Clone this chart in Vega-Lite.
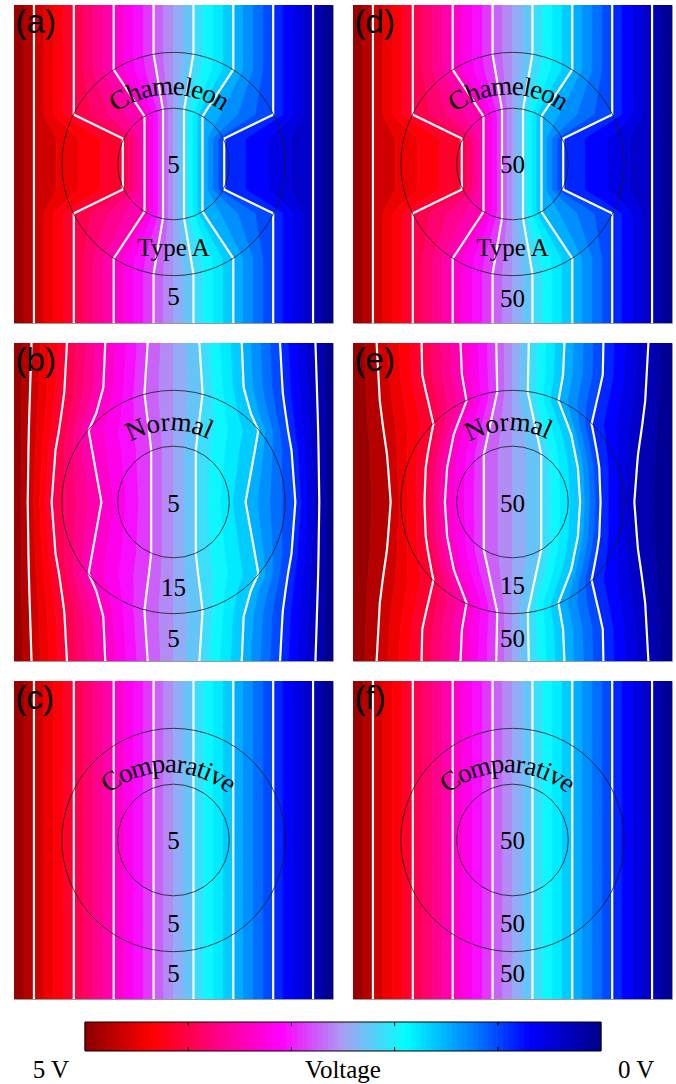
{
"$schema":"https://vega.github.io/schema/vega-lite/v6.json",
"background":"#ffffff",
"padding":{"left":13,"top":4,"right":0,"bottom":0},
"config":{"view":{"stroke":"#9a9a9a","strokeWidth":1}},
"datasets":{
"strips":[{"n":1,"v":4.922},{"n":2,"v":4.766},{"n":3,"v":4.609},{"n":4,"v":4.453},{"n":5,"v":4.297},{"n":6,"v":4.141},{"n":7,"v":3.984},{"n":8,"v":3.828},{"n":9,"v":3.672},{"n":10,"v":3.516},{"n":11,"v":3.359},{"n":12,"v":3.203},{"n":13,"v":3.047},{"n":14,"v":2.891},{"n":15,"v":2.734},{"n":16,"v":2.578},{"n":17,"v":2.422},{"n":18,"v":2.266},{"n":19,"v":2.109},{"n":20,"v":1.953},{"n":21,"v":1.797},{"n":22,"v":1.641},{"n":23,"v":1.484},{"n":24,"v":1.328},{"n":25,"v":1.172},{"n":26,"v":1.016},{"n":27,"v":0.859},{"n":28,"v":0.703},{"n":29,"v":0.547},{"n":30,"v":0.391},{"n":31,"v":0.234},{"n":32,"v":0.078}],
"field":[
{"g":"A","y":10,"b":[0,0.313,0.625,0.938,1.25,1.563,1.875,2.188,2.5,2.813,3.125,3.438,3.75,4.063,4.375,4.688,5,5.313,5.625,5.938,6.25,6.563,6.875,7.188,7.5,7.813,8.125,8.438,8.75,9.063,9.375,9.688,10]},
{"g":"A","y":8.45,"b":[0,0.313,0.625,0.938,1.25,1.563,1.875,2.188,2.5,2.813,3.125,3.438,3.75,4.063,4.375,4.688,5,5.313,5.625,5.938,6.25,6.563,6.875,7.188,7.5,7.813,8.125,8.438,8.75,9.063,9.375,9.688,10]},
{"g":"A","y":7.97,"b":[0,0.313,0.625,0.938,1.25,1.563,1.875,2.188,2.5,2.813,3.125,3.458,3.791,4.123,4.456,4.728,5,5.272,5.544,5.877,6.209,6.542,6.875,7.188,7.5,7.813,8.125,8.438,8.75,9.063,9.375,9.688,10]},
{"g":"A","y":6.7,"b":[0,0.313,0.625,0.938,1.25,1.563,1.875,2.396,2.917,3.438,3.959,4.137,4.315,4.492,4.67,4.835,5,5.165,5.33,5.508,5.685,5.863,6.041,6.562,7.083,7.604,8.125,8.438,8.75,9.063,9.375,9.688,10]},
{"g":"A","y":6.55,"b":[0,0.313,0.625,0.938,1.25,1.563,1.875,2.421,2.966,3.512,4.057,4.21,4.364,4.517,4.67,4.835,5,5.165,5.33,5.483,5.636,5.79,5.943,6.488,7.034,7.579,8.125,8.438,8.75,9.063,9.375,9.688,10]},
{"g":"A","y":6.5,"b":[0,0.313,0.625,0.963,1.301,1.639,1.977,2.505,3.034,3.562,4.09,4.235,4.38,4.525,4.67,4.835,5,5.165,5.33,5.475,5.62,5.765,5.91,6.438,6.966,7.495,8.023,8.361,8.699,9.037,9.375,9.688,10]},
{"g":"A","y":5.8,"b":[0,0.313,0.625,1.321,2.018,2.714,3.41,3.58,3.75,3.92,4.09,4.235,4.38,4.525,4.67,4.835,5,5.165,5.33,5.475,5.62,5.765,5.91,6.08,6.25,6.42,6.59,7.286,7.982,8.679,9.375,9.688,10]},
{"g":"A","y":4.2,"b":[0,0.313,0.625,1.321,2.018,2.714,3.41,3.58,3.75,3.92,4.09,4.235,4.38,4.525,4.67,4.835,5,5.165,5.33,5.475,5.62,5.765,5.91,6.08,6.25,6.42,6.59,7.286,7.982,8.679,9.375,9.688,10]},
{"g":"A","y":3.5,"b":[0,0.313,0.625,0.963,1.301,1.639,1.977,2.505,3.034,3.562,4.09,4.235,4.38,4.525,4.67,4.835,5,5.165,5.33,5.475,5.62,5.765,5.91,6.438,6.966,7.495,8.023,8.361,8.699,9.037,9.375,9.688,10]},
{"g":"A","y":3.45,"b":[0,0.313,0.625,0.938,1.25,1.563,1.875,2.421,2.966,3.512,4.057,4.21,4.364,4.517,4.67,4.835,5,5.165,5.33,5.483,5.636,5.79,5.943,6.488,7.034,7.579,8.125,8.438,8.75,9.063,9.375,9.688,10]},
{"g":"A","y":3.3,"b":[0,0.313,0.625,0.938,1.25,1.563,1.875,2.396,2.917,3.438,3.959,4.137,4.315,4.492,4.67,4.835,5,5.165,5.33,5.508,5.685,5.863,6.041,6.562,7.083,7.604,8.125,8.438,8.75,9.063,9.375,9.688,10]},
{"g":"A","y":2.03,"b":[0,0.313,0.625,0.938,1.25,1.563,1.875,2.188,2.5,2.813,3.125,3.458,3.791,4.123,4.456,4.728,5,5.272,5.544,5.877,6.209,6.542,6.875,7.188,7.5,7.813,8.125,8.438,8.75,9.063,9.375,9.688,10]},
{"g":"A","y":1.55,"b":[0,0.313,0.625,0.938,1.25,1.563,1.875,2.188,2.5,2.813,3.125,3.438,3.75,4.063,4.375,4.688,5,5.313,5.625,5.938,6.25,6.563,6.875,7.188,7.5,7.813,8.125,8.438,8.75,9.063,9.375,9.688,10]},
{"g":"A","y":0,"b":[0,0.313,0.625,0.938,1.25,1.563,1.875,2.188,2.5,2.813,3.125,3.438,3.75,4.063,4.375,4.688,5,5.313,5.625,5.938,6.25,6.563,6.875,7.188,7.5,7.813,8.125,8.438,8.75,9.063,9.375,9.688,10]},
{"g":"B","y":10,"b":[0,0.275,0.55,0.828,1.105,1.383,1.66,1.96,2.26,2.56,2.86,3.193,3.525,3.858,4.19,4.595,5,5.405,5.81,6.142,6.475,6.807,7.14,7.44,7.74,8.04,8.34,8.617,8.895,9.172,9.45,9.725,10]},
{"g":"B","y":8.6,"b":[0,0.253,0.505,0.775,1.045,1.315,1.585,1.889,2.193,2.496,2.8,3.125,3.45,3.775,4.1,4.55,5,5.45,5.9,6.225,6.55,6.875,7.2,7.504,7.807,8.111,8.415,8.685,8.955,9.225,9.495,9.747,10]},
{"g":"B","y":8.4,"b":[0,0.25,0.5,0.768,1.035,1.303,1.57,1.864,2.158,2.451,2.745,3.081,3.418,3.754,4.09,4.545,5,5.455,5.91,6.246,6.582,6.919,7.255,7.549,7.842,8.136,8.43,8.697,8.965,9.232,9.5,9.75,10]},
{"g":"B","y":7.8,"b":[0,0.24,0.48,0.733,0.985,1.238,1.49,1.763,2.035,2.308,2.58,2.975,3.37,3.765,4.16,4.58,5,5.42,5.84,6.235,6.63,7.025,7.42,7.692,7.965,8.237,8.51,8.762,9.015,9.267,9.52,9.76,10]},
{"g":"B","y":7.25,"b":[0,0.233,0.466,0.702,0.938,1.174,1.41,1.643,1.875,2.108,2.34,2.813,3.285,3.758,4.23,4.615,5,5.385,5.77,6.242,6.715,7.187,7.66,7.892,8.125,8.357,8.59,8.826,9.062,9.298,9.534,9.767,10]},
{"g":"B","y":6.62,"b":[0,0.227,0.453,0.665,0.877,1.088,1.3,1.588,1.875,2.163,2.45,2.913,3.375,3.838,4.3,4.65,5,5.35,5.7,6.162,6.625,7.087,7.55,7.837,8.125,8.412,8.7,8.912,9.123,9.335,9.547,9.773,10]},
{"g":"B","y":5,"b":[0,0.215,0.43,0.618,0.805,0.993,1.18,1.57,1.96,2.35,2.74,3.13,3.52,3.91,4.3,4.65,5,5.35,5.7,6.09,6.48,6.87,7.26,7.65,8.04,8.43,8.82,9.007,9.195,9.382,9.57,9.785,10]},
{"g":"B","y":3.38,"b":[0,0.227,0.453,0.665,0.877,1.088,1.3,1.588,1.875,2.163,2.45,2.913,3.375,3.838,4.3,4.65,5,5.35,5.7,6.162,6.625,7.087,7.55,7.837,8.125,8.412,8.7,8.912,9.123,9.335,9.547,9.773,10]},
{"g":"B","y":2.75,"b":[0,0.233,0.466,0.702,0.938,1.174,1.41,1.643,1.875,2.108,2.34,2.813,3.285,3.758,4.23,4.615,5,5.385,5.77,6.242,6.715,7.187,7.66,7.892,8.125,8.357,8.59,8.826,9.062,9.298,9.534,9.767,10]},
{"g":"B","y":2.2,"b":[0,0.24,0.48,0.733,0.985,1.238,1.49,1.763,2.035,2.308,2.58,2.975,3.37,3.765,4.16,4.58,5,5.42,5.84,6.235,6.63,7.025,7.42,7.692,7.965,8.237,8.51,8.762,9.015,9.267,9.52,9.76,10]},
{"g":"B","y":1.6,"b":[0,0.25,0.5,0.768,1.035,1.303,1.57,1.864,2.158,2.451,2.745,3.081,3.418,3.754,4.09,4.545,5,5.455,5.91,6.246,6.582,6.919,7.255,7.549,7.842,8.136,8.43,8.697,8.965,9.232,9.5,9.75,10]},
{"g":"B","y":1.4,"b":[0,0.253,0.505,0.775,1.045,1.315,1.585,1.889,2.193,2.496,2.8,3.125,3.45,3.775,4.1,4.55,5,5.45,5.9,6.225,6.55,6.875,7.2,7.504,7.807,8.111,8.415,8.685,8.955,9.225,9.495,9.747,10]},
{"g":"B","y":0,"b":[0,0.275,0.55,0.828,1.105,1.383,1.66,1.96,2.26,2.56,2.86,3.193,3.525,3.858,4.19,4.595,5,5.405,5.81,6.142,6.475,6.807,7.14,7.44,7.74,8.04,8.34,8.617,8.895,9.172,9.45,9.725,10]},
{"g":"E","y":10,"b":[0,0.37,0.74,1.093,1.445,1.798,2.15,2.455,2.76,3.065,3.37,3.65,3.93,4.21,4.49,4.745,5,5.255,5.51,5.79,6.07,6.35,6.63,6.935,7.24,7.545,7.85,8.202,8.555,8.907,9.26,9.63,10]},
{"g":"E","y":9,"b":[0,0.398,0.795,1.139,1.483,1.826,2.17,2.481,2.793,3.104,3.415,3.689,3.963,4.236,4.51,4.755,5,5.245,5.49,5.764,6.037,6.311,6.585,6.896,7.207,7.519,7.83,8.174,8.517,8.861,9.205,9.602,10]},
{"g":"E","y":8.45,"b":[0,0.413,0.825,1.191,1.558,1.924,2.29,2.595,2.9,3.205,3.51,3.763,4.015,4.268,4.52,4.76,5,5.24,5.48,5.732,5.985,6.237,6.49,6.795,7.1,7.405,7.71,8.076,8.442,8.809,9.175,9.587,10]},
{"g":"E","y":8.18,"b":[0,0.42,0.84,1.219,1.598,1.976,2.355,2.656,2.958,3.259,3.56,3.785,4.01,4.235,4.46,4.73,5,5.27,5.54,5.765,5.99,6.215,6.44,6.741,7.042,7.344,7.645,8.024,8.402,8.781,9.16,9.58,10]},
{"g":"E","y":7.45,"b":[0,0.465,0.93,1.328,1.725,2.123,2.52,2.71,2.9,3.09,3.28,3.536,3.793,4.049,4.305,4.653,5,5.347,5.695,5.951,6.207,6.464,6.72,6.91,7.1,7.29,7.48,7.877,8.275,8.672,9.07,9.535,10]},
{"g":"E","y":7.13,"b":[0,0.488,0.975,1.345,1.716,2.086,2.456,2.632,2.808,2.984,3.16,3.429,3.698,3.967,4.236,4.618,5,5.382,5.764,6.033,6.302,6.571,6.84,7.016,7.192,7.368,7.544,7.914,8.284,8.655,9.025,9.512,10]},
{"g":"E","y":6.5,"b":[0,0.533,1.065,1.384,1.703,2.021,2.34,2.514,2.687,2.861,3.034,3.301,3.567,3.834,4.1,4.55,5,5.45,5.9,6.166,6.433,6.699,6.966,7.139,7.313,7.486,7.66,7.979,8.297,8.616,8.935,9.467,10]},
{"g":"E","y":6.08,"b":[0,0.55,1.1,1.395,1.69,1.985,2.28,2.448,2.615,2.783,2.95,3.238,3.525,3.813,4.1,4.55,5,5.45,5.9,6.187,6.475,6.762,7.05,7.217,7.385,7.552,7.72,8.015,8.31,8.605,8.9,9.45,10]},
{"g":"E","y":5,"b":[0,0.59,1.18,1.445,1.71,1.975,2.24,2.4,2.56,2.72,2.88,3.185,3.49,3.795,4.1,4.55,5,5.45,5.9,6.205,6.51,6.815,7.12,7.28,7.44,7.6,7.76,8.025,8.29,8.555,8.82,9.41,10]},
{"g":"E","y":3.92,"b":[0,0.55,1.1,1.395,1.69,1.985,2.28,2.448,2.615,2.783,2.95,3.238,3.525,3.813,4.1,4.55,5,5.45,5.9,6.187,6.475,6.762,7.05,7.217,7.385,7.552,7.72,8.015,8.31,8.605,8.9,9.45,10]},
{"g":"E","y":3.5,"b":[0,0.533,1.065,1.384,1.703,2.021,2.34,2.514,2.687,2.861,3.034,3.301,3.567,3.834,4.1,4.55,5,5.45,5.9,6.166,6.433,6.699,6.966,7.139,7.313,7.486,7.66,7.979,8.297,8.616,8.935,9.467,10]},
{"g":"E","y":2.87,"b":[0,0.488,0.975,1.345,1.716,2.086,2.456,2.632,2.808,2.984,3.16,3.429,3.698,3.967,4.236,4.618,5,5.382,5.764,6.033,6.302,6.571,6.84,7.016,7.192,7.368,7.544,7.914,8.284,8.655,9.025,9.512,10]},
{"g":"E","y":2.55,"b":[0,0.465,0.93,1.328,1.725,2.123,2.52,2.71,2.9,3.09,3.28,3.536,3.793,4.049,4.305,4.653,5,5.347,5.695,5.951,6.207,6.464,6.72,6.91,7.1,7.29,7.48,7.877,8.275,8.672,9.07,9.535,10]},
{"g":"E","y":1.82,"b":[0,0.42,0.84,1.219,1.598,1.976,2.355,2.656,2.958,3.259,3.56,3.785,4.01,4.235,4.46,4.73,5,5.27,5.54,5.765,5.99,6.215,6.44,6.741,7.042,7.344,7.645,8.024,8.402,8.781,9.16,9.58,10]},
{"g":"E","y":1.55,"b":[0,0.413,0.825,1.191,1.558,1.924,2.29,2.595,2.9,3.205,3.51,3.763,4.015,4.268,4.52,4.76,5,5.24,5.48,5.732,5.985,6.237,6.49,6.795,7.1,7.405,7.71,8.076,8.442,8.809,9.175,9.587,10]},
{"g":"E","y":1,"b":[0,0.398,0.795,1.139,1.483,1.826,2.17,2.481,2.793,3.104,3.415,3.689,3.963,4.236,4.51,4.755,5,5.245,5.49,5.764,6.037,6.311,6.585,6.896,7.207,7.519,7.83,8.174,8.517,8.861,9.205,9.602,10]},
{"g":"E","y":0,"b":[0,0.37,0.74,1.093,1.445,1.798,2.15,2.455,2.76,3.065,3.37,3.65,3.93,4.21,4.49,4.745,5,5.255,5.51,5.79,6.07,6.35,6.63,6.935,7.24,7.545,7.85,8.202,8.555,8.907,9.26,9.63,10]},
{"g":"C","y":10,"b":[0,0.313,0.625,0.938,1.25,1.563,1.875,2.188,2.5,2.813,3.125,3.438,3.75,4.063,4.375,4.688,5,5.313,5.625,5.938,6.25,6.563,6.875,7.188,7.5,7.813,8.125,8.438,8.75,9.063,9.375,9.688,10]},
{"g":"C","y":0,"b":[0,0.313,0.625,0.938,1.25,1.563,1.875,2.188,2.5,2.813,3.125,3.438,3.75,4.063,4.375,4.688,5,5.313,5.625,5.938,6.25,6.563,6.875,7.188,7.5,7.813,8.125,8.438,8.75,9.063,9.375,9.688,10]}
],
"rings":[{"cx":5,"cy":5,"r":3.5},{"cx":5,"cy":5,"r":1.75}],
"words":[
{"w":"ch","t":"C","x":3.303,"y":6.985,"a":-31},
{"w":"ch","t":"h","x":3.764,"y":7.214,"a":-21.5},
{"w":"ch","t":"a","x":4.15,"y":7.338,"a":-14},
{"w":"ch","t":"m","x":4.657,"y":7.42,"a":-4.5},
{"w":"ch","t":"e","x":5.17,"y":7.418,"a":5},
{"w":"ch","t":"l","x":5.465,"y":7.378,"a":10.5},
{"w":"ch","t":"e","x":5.754,"y":7.31,"a":16},
{"w":"ch","t":"o","x":6.136,"y":7.172,"a":23.5},
{"w":"ch","t":"n","x":6.497,"y":6.985,"a":31},
{"w":"no","t":"N","x":3.82,"y":7.26,"a":-23.8},
{"w":"no","t":"o","x":4.35,"y":7.43,"a":-12.4},
{"w":"no","t":"r","x":4.74,"y":7.49,"a":-4.3},
{"w":"no","t":"m","x":5.24,"y":7.485,"a":5.9},
{"w":"no","t":"a","x":5.78,"y":7.374,"a":17.2},
{"w":"no","t":"l","x":6.09,"y":7.258,"a":24},
{"w":"co","t":"C","x":3.058,"y":6.827,"a":-34.3},
{"w":"co","t":"o","x":3.486,"y":7.073,"a":-25.4},
{"w":"co","t":"m","x":3.989,"y":7.261,"a":-15.7},
{"w":"co","t":"p","x":4.523,"y":7.363,"a":-5.9},
{"w":"co","t":"a","x":4.922,"y":7.379,"a":1.3},
{"w":"co","t":"r","x":5.251,"y":7.355,"a":7.25},
{"w":"co","t":"a","x":5.576,"y":7.296,"a":13.2},
{"w":"co","t":"t","x":5.87,"y":7.212,"a":18.7},
{"w":"co","t":"i","x":6.087,"y":7.129,"a":22.9},
{"w":"co","t":"v","x":6.387,"y":6.984,"a":28.9},
{"w":"co","t":"e","x":6.719,"y":6.773,"a":36}
],
"labs":[
{"p":"a","t":"5","x":5,"y":4.97},{"p":"a","t":"Type A","x":5,"y":2.37},{"p":"a","t":"5","x":5,"y":0.82},
{"p":"d","t":"50","x":5,"y":4.96},{"p":"d","t":"Type A","x":5,"y":2.36},{"p":"d","t":"50","x":5,"y":0.75},
{"p":"b","t":"5","x":5,"y":4.93},{"p":"b","t":"15","x":5,"y":2.31},{"p":"b","t":"5","x":5,"y":0.68},
{"p":"e","t":"50","x":5,"y":4.93},{"p":"e","t":"15","x":5,"y":2.36},{"p":"e","t":"50","x":5,"y":0.68},
{"p":"c","t":"5","x":5,"y":4.96},{"p":"c","t":"5","x":5,"y":2.35},{"p":"c","t":"5","x":5,"y":0.78},
{"p":"f","t":"50","x":5,"y":4.96},{"p":"f","t":"50","x":5,"y":2.35},{"p":"f","t":"50","x":5,"y":0.78}
],
"ids":[{"p":"a","t":"(a)","x":0.05,"y":9.42},{"p":"b","t":"(b)","x":0.05,"y":9.42},{"p":"c","t":"(c)","x":0.05,"y":9.42},{"p":"d","t":"(d)","x":0.05,"y":9.42},{"p":"e","t":"(e)","x":0.05,"y":9.42},{"p":"f","t":"(f)","x":0.05,"y":9.42}],
"bar":[{"v":[0.025,0.075,0.125,0.175,0.225,0.275,0.325,0.375,0.425,0.475,0.525,0.575,0.625,0.675,0.725,0.775,0.825,0.875,0.925,0.975,1.025,1.075,1.125,1.175,1.225,1.275,1.325,1.375,1.425,1.475,1.525,1.575,1.625,1.675,1.725,1.775,1.825,1.875,1.925,1.975,2.025,2.075,2.125,2.175,2.225,2.275,2.325,2.375,2.425,2.475,2.525,2.575,2.625,2.675,2.725,2.775,2.825,2.875,2.925,2.975,3.025,3.075,3.125,3.175,3.225,3.275,3.325,3.375,3.425,3.475,3.525,3.575,3.625,3.675,3.725,3.775,3.825,3.875,3.925,3.975,4.025,4.075,4.125,4.175,4.225,4.275,4.325,4.375,4.425,4.475,4.525,4.575,4.625,4.675,4.725,4.775,4.825,4.875,4.925,4.975]}],
"ticks":[{"v":1,"y0":0,"y1":0.14},{"v":1,"y0":0.86,"y1":1},{"v":2,"y0":0,"y1":0.14},{"v":2,"y0":0.86,"y1":1},{"v":3,"y0":0,"y1":0.14},{"v":3,"y0":0.86,"y1":1},{"v":4,"y0":0,"y1":0.14},{"v":4,"y0":0.86,"y1":1}]
},
"vconcat":[
{"concat":[
{"width":319,"height":318,"layer":[
{"data":{"name":"field"},"transform":[{"filter":{"field":"g","equal":"A"}},{"flatten":["b"]},{"window":[{"op":"row_number","as":"n"},{"op":"lead","field":"b","as":"b2"}],"sort":[{"field":"b"}],"groupby":["y"]},{"lookup":"n","from":{"data":{"name":"strips"},"key":"n","fields":["v"]}},{"filter":"datum.b2 != null"}],
"mark":{"type":"area","orient":"horizontal","clip":true,"strokeWidth":0.8},
"encoding":{"y":{"field":"y","type":"quantitative","scale":{"domain":[0,10],"nice":false,"zero":false},"axis":null},"x":{"field":"b","type":"quantitative","scale":{"domain":[0,10],"nice":false,"zero":false},"axis":null,"stack":null},"x2":{"field":"b2"},
"color":{"field":"v","type":"quantitative","scale":{"type":"linear","domain":[0,0.7,1.25,1.9,2.5,3.1,3.75,4.35,5],"range":["#000088","#0000ff","#0080ff","#00ffff","#a8a0f4","#ff00ff","#ff0080","#ff0000","#8b0000"],"interpolate":"rgb","zero":false,"nice":false},"legend":null},
"stroke":{"field":"v","type":"quantitative","scale":{"type":"linear","domain":[0,0.7,1.25,1.9,2.5,3.1,3.75,4.35,5],"range":["#000088","#0000ff","#0080ff","#00ffff","#a8a0f4","#ff00ff","#ff0080","#ff0000","#8b0000"],"interpolate":"rgb","zero":false,"nice":false},"legend":null},
"detail":{"field":"n","type":"nominal"}}},
{"data":{"name":"field"},"transform":[{"filter":{"field":"g","equal":"A"}},{"flatten":["b"]},{"window":[{"op":"row_number","as":"n"}],"sort":[{"field":"b"}],"groupby":["y"]},{"filter":{"field":"n","oneOf":[3,7,11,15,19,23,27,31]}}],
"mark":{"type":"line","color":"#ffffff","strokeWidth":2.2,"clip":true,"strokeJoin":"round"},
"encoding":{"x":{"field":"b","type":"quantitative","scale":{"domain":[0,10],"nice":false,"zero":false},"axis":null},"y":{"field":"y","type":"quantitative","scale":{"domain":[0,10],"nice":false,"zero":false},"axis":null},"detail":{"field":"n","type":"nominal"},"order":{"field":"y","type":"quantitative"}}},
{"data":{"name":"rings"},"mark":{"type":"point","shape":"circle","filled":false,"color":"#1a1a1a","strokeWidth":0.8,"opacity":1},"encoding":{"x":{"field":"cx","type":"quantitative","scale":{"domain":[0,10],"nice":false,"zero":false},"axis":null},"y":{"field":"cy","type":"quantitative","scale":{"domain":[0,10],"nice":false,"zero":false},"axis":null},"size":{"field":"r","type":"quantitative","scale":{"type":"pow","exponent":2,"domain":[0,5],"range":[0,101761],"zero":true},"legend":null}}},
{"data":{"name":"words"},"transform":[{"filter":{"field":"w","equal":"ch"}}],"mark":{"type":"text","font":"Liberation Serif","fontSize":27,"align":"center","baseline":"middle","color":"#000000"},"encoding":{"x":{"field":"x","type":"quantitative","scale":{"domain":[0,10],"nice":false,"zero":false},"axis":null},"y":{"field":"y","type":"quantitative","scale":{"domain":[0,10],"nice":false,"zero":false},"axis":null},"text":{"field":"t"},"angle":{"field":"a","type":"quantitative","scale":{"domain":[-90,90],"range":[-90,90]}}}},
{"data":{"name":"labs"},"transform":[{"filter":{"field":"p","equal":"a"}}],"mark":{"type":"text","font":"Liberation Serif","fontSize":25,"align":"center","baseline":"middle","color":"#000000"},"encoding":{"x":{"field":"x","type":"quantitative","scale":{"domain":[0,10],"nice":false,"zero":false},"axis":null},"y":{"field":"y","type":"quantitative","scale":{"domain":[0,10],"nice":false,"zero":false},"axis":null},"text":{"field":"t"}}},
{"data":{"name":"ids"},"transform":[{"filter":{"field":"p","equal":"a"}}],"mark":{"type":"text","font":"Liberation Sans","fontSize":33,"align":"left","baseline":"middle","color":"#000000"},"encoding":{"x":{"field":"x","type":"quantitative","scale":{"domain":[0,10],"nice":false,"zero":false},"axis":null},"y":{"field":"y","type":"quantitative","scale":{"domain":[0,10],"nice":false,"zero":false},"axis":null},"text":{"field":"t"}}}
]},
{"width":319,"height":318,"layer":[
{"data":{"name":"field"},"transform":[{"filter":{"field":"g","equal":"A"}},{"flatten":["b"]},{"window":[{"op":"row_number","as":"n"},{"op":"lead","field":"b","as":"b2"}],"sort":[{"field":"b"}],"groupby":["y"]},{"lookup":"n","from":{"data":{"name":"strips"},"key":"n","fields":["v"]}},{"filter":"datum.b2 != null"}],
"mark":{"type":"area","orient":"horizontal","clip":true,"strokeWidth":0.8},
"encoding":{"y":{"field":"y","type":"quantitative","scale":{"domain":[0,10],"nice":false,"zero":false},"axis":null},"x":{"field":"b","type":"quantitative","scale":{"domain":[0,10],"nice":false,"zero":false},"axis":null,"stack":null},"x2":{"field":"b2"},
"color":{"field":"v","type":"quantitative","scale":{"type":"linear","domain":[0,0.7,1.25,1.9,2.5,3.1,3.75,4.35,5],"range":["#000088","#0000ff","#0080ff","#00ffff","#a8a0f4","#ff00ff","#ff0080","#ff0000","#8b0000"],"interpolate":"rgb","zero":false,"nice":false},"legend":null},
"stroke":{"field":"v","type":"quantitative","scale":{"type":"linear","domain":[0,0.7,1.25,1.9,2.5,3.1,3.75,4.35,5],"range":["#000088","#0000ff","#0080ff","#00ffff","#a8a0f4","#ff00ff","#ff0080","#ff0000","#8b0000"],"interpolate":"rgb","zero":false,"nice":false},"legend":null},
"detail":{"field":"n","type":"nominal"}}},
{"data":{"name":"field"},"transform":[{"filter":{"field":"g","equal":"A"}},{"flatten":["b"]},{"window":[{"op":"row_number","as":"n"}],"sort":[{"field":"b"}],"groupby":["y"]},{"filter":{"field":"n","oneOf":[3,7,11,15,19,23,27,31]}}],
"mark":{"type":"line","color":"#ffffff","strokeWidth":2.2,"clip":true,"strokeJoin":"round"},
"encoding":{"x":{"field":"b","type":"quantitative","scale":{"domain":[0,10],"nice":false,"zero":false},"axis":null},"y":{"field":"y","type":"quantitative","scale":{"domain":[0,10],"nice":false,"zero":false},"axis":null},"detail":{"field":"n","type":"nominal"},"order":{"field":"y","type":"quantitative"}}},
{"data":{"name":"rings"},"mark":{"type":"point","shape":"circle","filled":false,"color":"#1a1a1a","strokeWidth":0.8,"opacity":1},"encoding":{"x":{"field":"cx","type":"quantitative","scale":{"domain":[0,10],"nice":false,"zero":false},"axis":null},"y":{"field":"cy","type":"quantitative","scale":{"domain":[0,10],"nice":false,"zero":false},"axis":null},"size":{"field":"r","type":"quantitative","scale":{"type":"pow","exponent":2,"domain":[0,5],"range":[0,101761],"zero":true},"legend":null}}},
{"data":{"name":"words"},"transform":[{"filter":{"field":"w","equal":"ch"}}],"mark":{"type":"text","font":"Liberation Serif","fontSize":27,"align":"center","baseline":"middle","color":"#000000"},"encoding":{"x":{"field":"x","type":"quantitative","scale":{"domain":[0,10],"nice":false,"zero":false},"axis":null},"y":{"field":"y","type":"quantitative","scale":{"domain":[0,10],"nice":false,"zero":false},"axis":null},"text":{"field":"t"},"angle":{"field":"a","type":"quantitative","scale":{"domain":[-90,90],"range":[-90,90]}}}},
{"data":{"name":"labs"},"transform":[{"filter":{"field":"p","equal":"d"}}],"mark":{"type":"text","font":"Liberation Serif","fontSize":25,"align":"center","baseline":"middle","color":"#000000"},"encoding":{"x":{"field":"x","type":"quantitative","scale":{"domain":[0,10],"nice":false,"zero":false},"axis":null},"y":{"field":"y","type":"quantitative","scale":{"domain":[0,10],"nice":false,"zero":false},"axis":null},"text":{"field":"t"}}},
{"data":{"name":"ids"},"transform":[{"filter":{"field":"p","equal":"d"}}],"mark":{"type":"text","font":"Liberation Sans","fontSize":33,"align":"left","baseline":"middle","color":"#000000"},"encoding":{"x":{"field":"x","type":"quantitative","scale":{"domain":[0,10],"nice":false,"zero":false},"axis":null},"y":{"field":"y","type":"quantitative","scale":{"domain":[0,10],"nice":false,"zero":false},"axis":null},"text":{"field":"t"}}}
]},
{"width":319,"height":318,"layer":[
{"data":{"name":"field"},"transform":[{"filter":{"field":"g","equal":"B"}},{"flatten":["b"]},{"window":[{"op":"row_number","as":"n"},{"op":"lead","field":"b","as":"b2"}],"sort":[{"field":"b"}],"groupby":["y"]},{"lookup":"n","from":{"data":{"name":"strips"},"key":"n","fields":["v"]}},{"filter":"datum.b2 != null"}],
"mark":{"type":"area","orient":"horizontal","clip":true,"strokeWidth":0.8},
"encoding":{"y":{"field":"y","type":"quantitative","scale":{"domain":[0,10],"nice":false,"zero":false},"axis":null},"x":{"field":"b","type":"quantitative","scale":{"domain":[0,10],"nice":false,"zero":false},"axis":null,"stack":null},"x2":{"field":"b2"},
"color":{"field":"v","type":"quantitative","scale":{"type":"linear","domain":[0,0.7,1.25,1.9,2.5,3.1,3.75,4.35,5],"range":["#000088","#0000ff","#0080ff","#00ffff","#a8a0f4","#ff00ff","#ff0080","#ff0000","#8b0000"],"interpolate":"rgb","zero":false,"nice":false},"legend":null},
"stroke":{"field":"v","type":"quantitative","scale":{"type":"linear","domain":[0,0.7,1.25,1.9,2.5,3.1,3.75,4.35,5],"range":["#000088","#0000ff","#0080ff","#00ffff","#a8a0f4","#ff00ff","#ff0080","#ff0000","#8b0000"],"interpolate":"rgb","zero":false,"nice":false},"legend":null},
"detail":{"field":"n","type":"nominal"}}},
{"data":{"name":"field"},"transform":[{"filter":{"field":"g","equal":"B"}},{"flatten":["b"]},{"window":[{"op":"row_number","as":"n"}],"sort":[{"field":"b"}],"groupby":["y"]},{"filter":{"field":"n","oneOf":[3,7,11,15,19,23,27,31]}}],
"mark":{"type":"line","color":"#ffffff","strokeWidth":2.2,"clip":true,"strokeJoin":"round"},
"encoding":{"x":{"field":"b","type":"quantitative","scale":{"domain":[0,10],"nice":false,"zero":false},"axis":null},"y":{"field":"y","type":"quantitative","scale":{"domain":[0,10],"nice":false,"zero":false},"axis":null},"detail":{"field":"n","type":"nominal"},"order":{"field":"y","type":"quantitative"}}},
{"data":{"name":"rings"},"mark":{"type":"point","shape":"circle","filled":false,"color":"#1a1a1a","strokeWidth":0.8,"opacity":1},"encoding":{"x":{"field":"cx","type":"quantitative","scale":{"domain":[0,10],"nice":false,"zero":false},"axis":null},"y":{"field":"cy","type":"quantitative","scale":{"domain":[0,10],"nice":false,"zero":false},"axis":null},"size":{"field":"r","type":"quantitative","scale":{"type":"pow","exponent":2,"domain":[0,5],"range":[0,101761],"zero":true},"legend":null}}},
{"data":{"name":"words"},"transform":[{"filter":{"field":"w","equal":"no"}}],"mark":{"type":"text","font":"Liberation Serif","fontSize":27,"align":"center","baseline":"middle","color":"#000000"},"encoding":{"x":{"field":"x","type":"quantitative","scale":{"domain":[0,10],"nice":false,"zero":false},"axis":null},"y":{"field":"y","type":"quantitative","scale":{"domain":[0,10],"nice":false,"zero":false},"axis":null},"text":{"field":"t"},"angle":{"field":"a","type":"quantitative","scale":{"domain":[-90,90],"range":[-90,90]}}}},
{"data":{"name":"labs"},"transform":[{"filter":{"field":"p","equal":"b"}}],"mark":{"type":"text","font":"Liberation Serif","fontSize":25,"align":"center","baseline":"middle","color":"#000000"},"encoding":{"x":{"field":"x","type":"quantitative","scale":{"domain":[0,10],"nice":false,"zero":false},"axis":null},"y":{"field":"y","type":"quantitative","scale":{"domain":[0,10],"nice":false,"zero":false},"axis":null},"text":{"field":"t"}}},
{"data":{"name":"ids"},"transform":[{"filter":{"field":"p","equal":"b"}}],"mark":{"type":"text","font":"Liberation Sans","fontSize":33,"align":"left","baseline":"middle","color":"#000000"},"encoding":{"x":{"field":"x","type":"quantitative","scale":{"domain":[0,10],"nice":false,"zero":false},"axis":null},"y":{"field":"y","type":"quantitative","scale":{"domain":[0,10],"nice":false,"zero":false},"axis":null},"text":{"field":"t"}}}
]},
{"width":319,"height":318,"layer":[
{"data":{"name":"field"},"transform":[{"filter":{"field":"g","equal":"E"}},{"flatten":["b"]},{"window":[{"op":"row_number","as":"n"},{"op":"lead","field":"b","as":"b2"}],"sort":[{"field":"b"}],"groupby":["y"]},{"lookup":"n","from":{"data":{"name":"strips"},"key":"n","fields":["v"]}},{"filter":"datum.b2 != null"}],
"mark":{"type":"area","orient":"horizontal","clip":true,"strokeWidth":0.8},
"encoding":{"y":{"field":"y","type":"quantitative","scale":{"domain":[0,10],"nice":false,"zero":false},"axis":null},"x":{"field":"b","type":"quantitative","scale":{"domain":[0,10],"nice":false,"zero":false},"axis":null,"stack":null},"x2":{"field":"b2"},
"color":{"field":"v","type":"quantitative","scale":{"type":"linear","domain":[0,0.7,1.25,1.9,2.5,3.1,3.75,4.35,5],"range":["#000088","#0000ff","#0080ff","#00ffff","#a8a0f4","#ff00ff","#ff0080","#ff0000","#8b0000"],"interpolate":"rgb","zero":false,"nice":false},"legend":null},
"stroke":{"field":"v","type":"quantitative","scale":{"type":"linear","domain":[0,0.7,1.25,1.9,2.5,3.1,3.75,4.35,5],"range":["#000088","#0000ff","#0080ff","#00ffff","#a8a0f4","#ff00ff","#ff0080","#ff0000","#8b0000"],"interpolate":"rgb","zero":false,"nice":false},"legend":null},
"detail":{"field":"n","type":"nominal"}}},
{"data":{"name":"field"},"transform":[{"filter":{"field":"g","equal":"E"}},{"flatten":["b"]},{"window":[{"op":"row_number","as":"n"}],"sort":[{"field":"b"}],"groupby":["y"]},{"filter":{"field":"n","oneOf":[3,7,11,15,19,23,27,31]}}],
"mark":{"type":"line","color":"#ffffff","strokeWidth":2.2,"clip":true,"strokeJoin":"round"},
"encoding":{"x":{"field":"b","type":"quantitative","scale":{"domain":[0,10],"nice":false,"zero":false},"axis":null},"y":{"field":"y","type":"quantitative","scale":{"domain":[0,10],"nice":false,"zero":false},"axis":null},"detail":{"field":"n","type":"nominal"},"order":{"field":"y","type":"quantitative"}}},
{"data":{"name":"rings"},"mark":{"type":"point","shape":"circle","filled":false,"color":"#1a1a1a","strokeWidth":0.8,"opacity":1},"encoding":{"x":{"field":"cx","type":"quantitative","scale":{"domain":[0,10],"nice":false,"zero":false},"axis":null},"y":{"field":"cy","type":"quantitative","scale":{"domain":[0,10],"nice":false,"zero":false},"axis":null},"size":{"field":"r","type":"quantitative","scale":{"type":"pow","exponent":2,"domain":[0,5],"range":[0,101761],"zero":true},"legend":null}}},
{"data":{"name":"words"},"transform":[{"filter":{"field":"w","equal":"no"}}],"mark":{"type":"text","font":"Liberation Serif","fontSize":27,"align":"center","baseline":"middle","color":"#000000"},"encoding":{"x":{"field":"x","type":"quantitative","scale":{"domain":[0,10],"nice":false,"zero":false},"axis":null},"y":{"field":"y","type":"quantitative","scale":{"domain":[0,10],"nice":false,"zero":false},"axis":null},"text":{"field":"t"},"angle":{"field":"a","type":"quantitative","scale":{"domain":[-90,90],"range":[-90,90]}}}},
{"data":{"name":"labs"},"transform":[{"filter":{"field":"p","equal":"e"}}],"mark":{"type":"text","font":"Liberation Serif","fontSize":25,"align":"center","baseline":"middle","color":"#000000"},"encoding":{"x":{"field":"x","type":"quantitative","scale":{"domain":[0,10],"nice":false,"zero":false},"axis":null},"y":{"field":"y","type":"quantitative","scale":{"domain":[0,10],"nice":false,"zero":false},"axis":null},"text":{"field":"t"}}},
{"data":{"name":"ids"},"transform":[{"filter":{"field":"p","equal":"e"}}],"mark":{"type":"text","font":"Liberation Sans","fontSize":33,"align":"left","baseline":"middle","color":"#000000"},"encoding":{"x":{"field":"x","type":"quantitative","scale":{"domain":[0,10],"nice":false,"zero":false},"axis":null},"y":{"field":"y","type":"quantitative","scale":{"domain":[0,10],"nice":false,"zero":false},"axis":null},"text":{"field":"t"}}}
]},
{"width":319,"height":318,"layer":[
{"data":{"name":"field"},"transform":[{"filter":{"field":"g","equal":"C"}},{"flatten":["b"]},{"window":[{"op":"row_number","as":"n"},{"op":"lead","field":"b","as":"b2"}],"sort":[{"field":"b"}],"groupby":["y"]},{"lookup":"n","from":{"data":{"name":"strips"},"key":"n","fields":["v"]}},{"filter":"datum.b2 != null"}],
"mark":{"type":"area","orient":"horizontal","clip":true,"strokeWidth":0.8},
"encoding":{"y":{"field":"y","type":"quantitative","scale":{"domain":[0,10],"nice":false,"zero":false},"axis":null},"x":{"field":"b","type":"quantitative","scale":{"domain":[0,10],"nice":false,"zero":false},"axis":null,"stack":null},"x2":{"field":"b2"},
"color":{"field":"v","type":"quantitative","scale":{"type":"linear","domain":[0,0.7,1.25,1.9,2.5,3.1,3.75,4.35,5],"range":["#000088","#0000ff","#0080ff","#00ffff","#a8a0f4","#ff00ff","#ff0080","#ff0000","#8b0000"],"interpolate":"rgb","zero":false,"nice":false},"legend":null},
"stroke":{"field":"v","type":"quantitative","scale":{"type":"linear","domain":[0,0.7,1.25,1.9,2.5,3.1,3.75,4.35,5],"range":["#000088","#0000ff","#0080ff","#00ffff","#a8a0f4","#ff00ff","#ff0080","#ff0000","#8b0000"],"interpolate":"rgb","zero":false,"nice":false},"legend":null},
"detail":{"field":"n","type":"nominal"}}},
{"data":{"name":"field"},"transform":[{"filter":{"field":"g","equal":"C"}},{"flatten":["b"]},{"window":[{"op":"row_number","as":"n"}],"sort":[{"field":"b"}],"groupby":["y"]},{"filter":{"field":"n","oneOf":[3,7,11,15,19,23,27,31]}}],
"mark":{"type":"line","color":"#ffffff","strokeWidth":2.2,"clip":true,"strokeJoin":"round"},
"encoding":{"x":{"field":"b","type":"quantitative","scale":{"domain":[0,10],"nice":false,"zero":false},"axis":null},"y":{"field":"y","type":"quantitative","scale":{"domain":[0,10],"nice":false,"zero":false},"axis":null},"detail":{"field":"n","type":"nominal"},"order":{"field":"y","type":"quantitative"}}},
{"data":{"name":"rings"},"mark":{"type":"point","shape":"circle","filled":false,"color":"#1a1a1a","strokeWidth":0.8,"opacity":1},"encoding":{"x":{"field":"cx","type":"quantitative","scale":{"domain":[0,10],"nice":false,"zero":false},"axis":null},"y":{"field":"cy","type":"quantitative","scale":{"domain":[0,10],"nice":false,"zero":false},"axis":null},"size":{"field":"r","type":"quantitative","scale":{"type":"pow","exponent":2,"domain":[0,5],"range":[0,101761],"zero":true},"legend":null}}},
{"data":{"name":"words"},"transform":[{"filter":{"field":"w","equal":"co"}}],"mark":{"type":"text","font":"Liberation Serif","fontSize":27,"align":"center","baseline":"middle","color":"#000000"},"encoding":{"x":{"field":"x","type":"quantitative","scale":{"domain":[0,10],"nice":false,"zero":false},"axis":null},"y":{"field":"y","type":"quantitative","scale":{"domain":[0,10],"nice":false,"zero":false},"axis":null},"text":{"field":"t"},"angle":{"field":"a","type":"quantitative","scale":{"domain":[-90,90],"range":[-90,90]}}}},
{"data":{"name":"labs"},"transform":[{"filter":{"field":"p","equal":"c"}}],"mark":{"type":"text","font":"Liberation Serif","fontSize":25,"align":"center","baseline":"middle","color":"#000000"},"encoding":{"x":{"field":"x","type":"quantitative","scale":{"domain":[0,10],"nice":false,"zero":false},"axis":null},"y":{"field":"y","type":"quantitative","scale":{"domain":[0,10],"nice":false,"zero":false},"axis":null},"text":{"field":"t"}}},
{"data":{"name":"ids"},"transform":[{"filter":{"field":"p","equal":"c"}}],"mark":{"type":"text","font":"Liberation Sans","fontSize":33,"align":"left","baseline":"middle","color":"#000000"},"encoding":{"x":{"field":"x","type":"quantitative","scale":{"domain":[0,10],"nice":false,"zero":false},"axis":null},"y":{"field":"y","type":"quantitative","scale":{"domain":[0,10],"nice":false,"zero":false},"axis":null},"text":{"field":"t"}}}
]},
{"width":319,"height":318,"layer":[
{"data":{"name":"field"},"transform":[{"filter":{"field":"g","equal":"C"}},{"flatten":["b"]},{"window":[{"op":"row_number","as":"n"},{"op":"lead","field":"b","as":"b2"}],"sort":[{"field":"b"}],"groupby":["y"]},{"lookup":"n","from":{"data":{"name":"strips"},"key":"n","fields":["v"]}},{"filter":"datum.b2 != null"}],
"mark":{"type":"area","orient":"horizontal","clip":true,"strokeWidth":0.8},
"encoding":{"y":{"field":"y","type":"quantitative","scale":{"domain":[0,10],"nice":false,"zero":false},"axis":null},"x":{"field":"b","type":"quantitative","scale":{"domain":[0,10],"nice":false,"zero":false},"axis":null,"stack":null},"x2":{"field":"b2"},
"color":{"field":"v","type":"quantitative","scale":{"type":"linear","domain":[0,0.7,1.25,1.9,2.5,3.1,3.75,4.35,5],"range":["#000088","#0000ff","#0080ff","#00ffff","#a8a0f4","#ff00ff","#ff0080","#ff0000","#8b0000"],"interpolate":"rgb","zero":false,"nice":false},"legend":null},
"stroke":{"field":"v","type":"quantitative","scale":{"type":"linear","domain":[0,0.7,1.25,1.9,2.5,3.1,3.75,4.35,5],"range":["#000088","#0000ff","#0080ff","#00ffff","#a8a0f4","#ff00ff","#ff0080","#ff0000","#8b0000"],"interpolate":"rgb","zero":false,"nice":false},"legend":null},
"detail":{"field":"n","type":"nominal"}}},
{"data":{"name":"field"},"transform":[{"filter":{"field":"g","equal":"C"}},{"flatten":["b"]},{"window":[{"op":"row_number","as":"n"}],"sort":[{"field":"b"}],"groupby":["y"]},{"filter":{"field":"n","oneOf":[3,7,11,15,19,23,27,31]}}],
"mark":{"type":"line","color":"#ffffff","strokeWidth":2.2,"clip":true,"strokeJoin":"round"},
"encoding":{"x":{"field":"b","type":"quantitative","scale":{"domain":[0,10],"nice":false,"zero":false},"axis":null},"y":{"field":"y","type":"quantitative","scale":{"domain":[0,10],"nice":false,"zero":false},"axis":null},"detail":{"field":"n","type":"nominal"},"order":{"field":"y","type":"quantitative"}}},
{"data":{"name":"rings"},"mark":{"type":"point","shape":"circle","filled":false,"color":"#1a1a1a","strokeWidth":0.8,"opacity":1},"encoding":{"x":{"field":"cx","type":"quantitative","scale":{"domain":[0,10],"nice":false,"zero":false},"axis":null},"y":{"field":"cy","type":"quantitative","scale":{"domain":[0,10],"nice":false,"zero":false},"axis":null},"size":{"field":"r","type":"quantitative","scale":{"type":"pow","exponent":2,"domain":[0,5],"range":[0,101761],"zero":true},"legend":null}}},
{"data":{"name":"words"},"transform":[{"filter":{"field":"w","equal":"co"}}],"mark":{"type":"text","font":"Liberation Serif","fontSize":27,"align":"center","baseline":"middle","color":"#000000"},"encoding":{"x":{"field":"x","type":"quantitative","scale":{"domain":[0,10],"nice":false,"zero":false},"axis":null},"y":{"field":"y","type":"quantitative","scale":{"domain":[0,10],"nice":false,"zero":false},"axis":null},"text":{"field":"t"},"angle":{"field":"a","type":"quantitative","scale":{"domain":[-90,90],"range":[-90,90]}}}},
{"data":{"name":"labs"},"transform":[{"filter":{"field":"p","equal":"f"}}],"mark":{"type":"text","font":"Liberation Serif","fontSize":25,"align":"center","baseline":"middle","color":"#000000"},"encoding":{"x":{"field":"x","type":"quantitative","scale":{"domain":[0,10],"nice":false,"zero":false},"axis":null},"y":{"field":"y","type":"quantitative","scale":{"domain":[0,10],"nice":false,"zero":false},"axis":null},"text":{"field":"t"}}},
{"data":{"name":"ids"},"transform":[{"filter":{"field":"p","equal":"f"}}],"mark":{"type":"text","font":"Liberation Sans","fontSize":33,"align":"left","baseline":"middle","color":"#000000"},"encoding":{"x":{"field":"x","type":"quantitative","scale":{"domain":[0,10],"nice":false,"zero":false},"axis":null},"y":{"field":"y","type":"quantitative","scale":{"domain":[0,10],"nice":false,"zero":false},"axis":null},"text":{"field":"t"}}}
]}
],"columns":2,"spacing":20,"bounds":"flush"},
{"width":659,"height":29,"view":{"stroke":null},"layer":[
{"data":{"name":"bar"},"transform":[{"flatten":["v"]}],"mark":{"type":"rule","strokeWidth":6},"encoding":{"x":{"field":"v","type":"quantitative","scale":{"domain":[5,0],"range":[71,587],"nice":false,"zero":false},"axis":null},"color":{"field":"v","type":"quantitative","scale":{"type":"linear","domain":[0,0.7,1.25,1.9,2.5,3.1,3.75,4.35,5],"range":["#000088","#0000ff","#0080ff","#00ffff","#a8a0f4","#ff00ff","#ff0080","#ff0000","#8b0000"],"interpolate":"rgb","zero":false,"nice":false},"legend":null}}},
{"data":{"values":[{"a":5,"b":0,"y0":0,"y1":1}]},"mark":{"type":"rect","filled":false,"color":"#000000","strokeWidth":1},"encoding":{"x":{"field":"a","type":"quantitative","scale":{"domain":[5,0],"range":[71,587],"nice":false,"zero":false},"axis":null},"x2":{"field":"b"},"y":{"field":"y0","type":"quantitative","scale":{"domain":[0,1],"nice":false,"zero":false},"axis":null},"y2":{"field":"y1"}}},
{"data":{"name":"ticks"},"mark":{"type":"rule","color":"#000000","strokeWidth":1},"encoding":{"x":{"field":"v","type":"quantitative","scale":{"domain":[5,0],"range":[71,587],"nice":false,"zero":false},"axis":null},"y":{"field":"y0","type":"quantitative","scale":{"domain":[0,1],"nice":false,"zero":false},"axis":null},"y2":{"field":"y1"}}},
{"data":{"values":[{"t":"5 V","v":5.33,"y":-0.65},{"t":"Voltage","v":2.5,"y":-0.65},{"t":"0 V","v":-0.34,"y":-0.65}]},"mark":{"type":"text","font":"Liberation Serif","fontSize":25,"align":"center","baseline":"middle","color":"#000000"},"encoding":{"x":{"field":"v","type":"quantitative","scale":{"domain":[5,0],"range":[71,587],"nice":false,"zero":false},"axis":null},"y":{"field":"y","type":"quantitative","scale":{"domain":[0,1],"nice":false,"zero":false},"axis":null},"text":{"field":"t"}}}
]}
],
"spacing":19
}
